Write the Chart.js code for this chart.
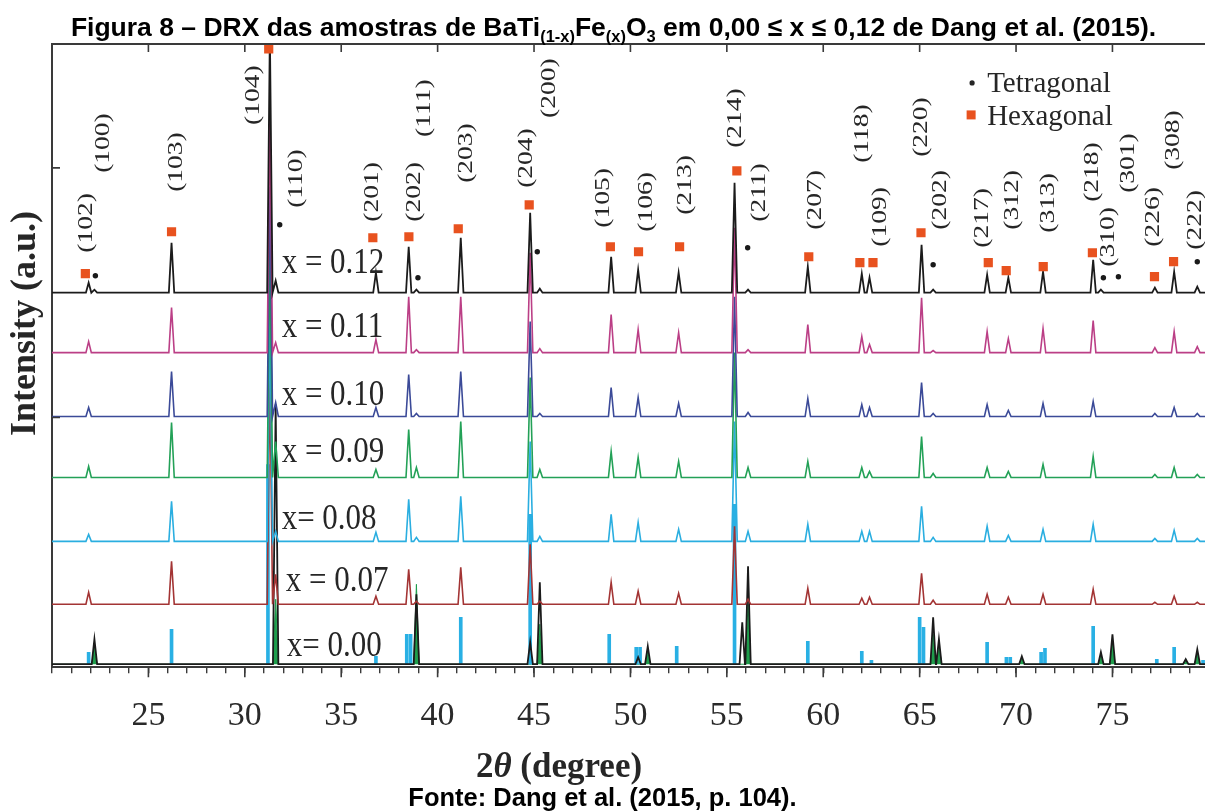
<!DOCTYPE html>
<html>
<head>
<meta charset="utf-8">
<script src="https://cdn.jsdelivr.net/npm/chart.js@4.4.0/dist/chart.umd.min.js"></script>
<style>
  body { margin: 0; background: #fff; }
  #wrap { position: relative; width: 1205px; height: 812px; overflow: hidden; }
  #chart { position: absolute; left: 0; top: 0; }
  .cap { position: absolute; left: 0; width: 1205px; text-align: center; white-space: nowrap;
         font-family: "Liberation Sans", Arial, sans-serif; font-weight: bold; color: #000; }
  #title { top: 12px; font-size: 26.5px; padding-left: 22px; box-sizing: border-box; }
  #source { top: 783px; font-size: 25.5px; }
  sub { font-size: 62%; vertical-align: -0.35em; line-height: 0; }
</style>
</head>
<body>
<div id="wrap">
  <canvas id="chart" width="1205" height="812"></canvas>
  <div class="cap" id="title">Figura 8 – DRX das amostras de BaTi<sub>(1-x)</sub>Fe<sub>(x)</sub>O<sub>3</sub> em 0,00 ≤ x ≤ 0,12 de Dang et al. (2015).</div>
  <div class="cap" id="source">Fonte: Dang et al. (2015, p. 104).</div>
</div>
<script>
// 2-theta positions of the reflections (degrees)
const twoTheta = [21.9, 22.2, 26.2, 31.3, 31.6, 36.8, 38.5, 38.9, 41.2, 44.8, 45.3, 49.0, 50.4, 50.9, 52.5,
                  55.4, 55.8, 56.1, 59.2, 62.0, 62.4, 65.1, 65.7, 66.0, 68.5, 69.6, 70.3, 71.4, 74.0, 74.4,
                  75.0, 77.2, 78.2, 78.8, 79.4];

// peak heights above each pattern's own baseline (a.u.)
const I_012 = [10, 3, 50, 260, 12, 20, 46, 3, 55, 80, 4, 36, 23, 0, 20, 110, 0, 3, 26, 19, 15, 48, 3, 0, 18, 15, 0, 21, 33, 3, 0, 5, 21, 0, 6];
const I_011 = [11, 0, 45, 240, 10, 13, 56, 3, 56, 100, 4, 38, 23, 0, 20, 125, 0, 3, 28, 16, 8, 55, 2, 0, 21, 14, 0, 24, 32, 0, 0, 5, 21, 0, 6];
const I_010 = [9, 0, 45, 230, 14, 9, 42, 3, 45, 95, 3, 29, 19, 0, 13, 120, 0, 4, 18, 12, 9, 34, 3, 0, 12, 6, 0, 13, 15, 0, 0, 3, 9, 0, 3];
const I_009 = [11, 0, 55, 230, 36, 8, 48, 10, 56, 100, 8, 26, 20, 0, 16, 125, 0, 10, 16, 10, 6, 41, 4, 0, 10, 6, 0, 13, 21, 0, 0, 3, 10, 0, 3];
const I_008 = [7, 0, 40, 230, 10, 9, 42, 4, 45, 100, 5, 27, 19, 0, 12, 120, 0, 10, 17, 10, 10, 35, 4, 0, 15, 6, 0, 12, 17, 0, 0, 3, 11, 0, 3];
const I_007 = [12, 0, 43, 230, 30, 8, 35, 3, 37, 60, 3, 22, 13, 0, 11, 78, 0, 5, 16, 6, 7, 31, 4, 0, 10, 7, 0, 10, 15, 0, 0, 2, 8, 0, 2];
const I_000 = [0, 25, 0, 0, 260, 0, 0, 70, 0, 22, 82, 0, 7, 18, 0, 0, 42, 98, 0, 0, 0, 0, 47, 25, 0, 0, 8, 0, 0, 12, 30, 0, 0, 5, 15];

// vertical offset of each pattern in the stack
const offsets = { x012: 375, x011: 315, x010: 251, x009: 190, x008: 126, x007: 63, x000: 3 };

// reference patterns under x = 0.00
const tetRef2Theta = [22.2, 31.6, 38.9, 45.3, 50.9, 56.1, 65.7, 66.0, 70.3, 74.4, 75.0, 78.8, 79.4];
const tetRefI      = [18, 65, 80, 40, 12, 60, 30, 20, 6, 8, 22, 5, 10];
const hexRef2Theta = [21.9, 26.2, 31.2, 36.8, 38.4, 38.6, 41.2, 44.8, 48.9, 50.3, 50.5, 52.4, 55.4, 59.2,
                      62.0, 62.5, 65.0, 65.2, 68.5, 69.5, 69.7, 71.3, 71.5, 74.0, 77.3, 78.2, 79.7];
const hexRefI      = [12, 35, 200, 8, 30, 30, 47, 150, 30, 17, 17, 18, 160, 23, 13, 4, 47, 37, 22, 7, 7, 12, 16, 38, 5, 17, 4];

// phase markers above the x = 0.12 pattern
const hexMark2Theta = [21.73, 26.2, 31.24, 36.64, 38.51, 41.07, 44.75, 48.96, 50.42, 52.55, 55.52, 59.25, 61.9,
                       62.58, 65.07, 68.56, 69.49, 71.41, 73.96, 77.18, 78.17];
const hexMarkI      = [394, 436, 619, 430, 431, 439, 463, 421, 416, 421, 497, 411, 405, 405, 435, 405, 397, 401, 415, 391, 406];
const tetMark2Theta = [22.25, 31.81, 38.98, 45.17, 56.08, 65.7, 74.53, 75.31, 79.4];
const tetMarkI      = [392, 443, 390, 416, 420, 403, 390, 391, 406];

// Miller indices: text, 2theta, intensity at the foot of the label
const millerText   = ['(100)', '(102)', '(103)', '(104)', '(110)', '(201)', '(202)', '(111)', '(203)', '(204)', '(200)',
                      '(105)', '(106)', '(213)', '(214)', '(211)', '(207)', '(118)', '(109)', '(220)', '(202)', '(217)',
                      '(312)', '(313)', '(218)', '(310)', '(301)', '(226)', '(308)', '(222)'];
const miller2Theta = [22.66, 21.78, 26.46, 30.46, 32.69, 36.59, 38.77, 39.29, 41.48, 44.59, 45.79, 48.6, 50.83, 52.86,
                      55.41, 56.7, 59.56, 62.01, 62.94, 65.07, 66.06, 68.24, 69.8, 71.67, 73.96, 74.79, 75.83, 77.13, 78.17, 79.31];
const millerI      = [495, 415, 476, 543, 460, 446, 446, 531, 485, 480, 550, 440, 436, 453, 520, 446, 438, 505, 421, 511,
                      438, 420, 438, 435, 466, 401, 475, 421, 498, 418];

const sampleLabels = ['x = 0.12', 'x = 0.11', 'x = 0.10', 'x = 0.09', 'x= 0.08', 'x = 0.07', 'x= 0.00'];
const sampleLabelAt = [[31.91, 395], [31.91, 331], [31.91, 263], [31.91, 205], [31.91, 138], [32.12, 76], [32.17, 11]];

const HW = 0.14; // half width of a peak foot, degrees

function trace(base, heights, positions) {
    const pts = [{ x: 20, y: base }];
    positions.forEach((p, i) => {
        if (!heights[i]) return;
        pts.push({ x: p - HW, y: base }, { x: p, y: base + heights[i] }, { x: p + HW, y: base });
    });
    pts.push({ x: 80, y: base });
    return pts.sort((a, b) => a.x - b.x);
}

function pattern(data, color, width) {
    return { type: 'line', data, borderColor: color, borderWidth: width || 1.6, pointRadius: 0, fill: false, tension: 0 };
}

const serif = '"Liberation Serif", "Times New Roman", serif';

const frameText = {
    id: 'frameText',
    afterDatasetsDraw(chart) {
        const { ctx, chartArea: a, scales: { x, y } } = chart;
        ctx.save();
        // top frame line and inward ticks
        ctx.strokeStyle = '#3a3a3a';
        ctx.lineWidth = 2;
        ctx.beginPath();
        ctx.moveTo(a.left, a.top);
        ctx.lineTo(a.right, a.top);
        ctx.stroke();
        ctx.lineWidth = 1.6;
        ctx.beginPath();
        for (let v = 25; v <= 75; v += 5) {
            const px = x.getPixelForValue(v);
            ctx.moveTo(px, a.top);
            ctx.lineTo(px, a.top + 8);
            // major ticks on the bottom axis hang a little lower
            ctx.moveTo(px, a.bottom);
            ctx.lineTo(px, a.bottom + 10);
        }
        [250, 500].forEach(v => {
            const py = y.getPixelForValue(v);
            ctx.moveTo(a.left, py);
            ctx.lineTo(a.left + 8, py);
        });
        ctx.stroke();

        ctx.fillStyle = '#262626';
        // Miller indices, rotated
        ctx.font = '22px ' + serif;
        ctx.textAlign = 'left';
        ctx.textBaseline = 'middle';
        millerText.forEach((t, i) => {
            ctx.save();
            ctx.translate(x.getPixelForValue(miller2Theta[i]), y.getPixelForValue(millerI[i]));
            ctx.rotate(-Math.PI / 2);
            ctx.scale(1.25, 1);
            ctx.fillText(t, 0, 0);
            ctx.restore();
        });

        // sample labels
        ctx.font = '31px ' + serif;
        ctx.textBaseline = 'alphabetic';
        sampleLabels.forEach((t, i) => {
            ctx.save();
            ctx.translate(x.getPixelForValue(sampleLabelAt[i][0]), y.getPixelForValue(sampleLabelAt[i][1]));
            ctx.scale(1, 1.15);
            ctx.fillText(t, 0, 0);
            ctx.restore();
        });

        // legend
        ctx.font = '29px ' + serif;
        const lx = x.getPixelForValue(68.5);
        ctx.fillText('Tetragonal', lx, y.getPixelForValue(576));
        ctx.fillText('Hexagonal', lx, y.getPixelForValue(543));
        ctx.beginPath();
        ctx.arc(x.getPixelForValue(67.72), y.getPixelForValue(585), 2.6, 0, Math.PI * 2);
        ctx.fill();
        ctx.fillStyle = '#e8521f';
        ctx.fillRect(x.getPixelForValue(67.67) - 4.5, y.getPixelForValue(553) - 4.5, 9, 9);

        // axis titles
        ctx.fillStyle = '#262626';
        ctx.save();
        ctx.translate(a.left - 26, (a.top + a.bottom) / 2 - 32);
        ctx.rotate(-Math.PI / 2);
        ctx.font = 'bold 36px ' + serif;
        ctx.textAlign = 'center';
        ctx.textBaseline = 'middle';
        ctx.fillText('Intensity (a.u.)', 0, 0);
        ctx.restore();

        const parts = [['2', 'bold 35px ' + serif], ['\u03b8', 'italic bold 35px ' + serif], [' (degree)', 'bold 35px ' + serif]];
        let total = 0;
        parts.forEach(p => { ctx.font = p[1]; total += ctx.measureText(p[0]).width; });
        let cx = a.left + 507 - total / 2;
        const by = a.bottom + 110;
        ctx.textAlign = 'left';
        ctx.textBaseline = 'alphabetic';
        parts.forEach(p => {
            ctx.font = p[1];
            ctx.fillText(p[0], cx, by);
            cx += ctx.measureText(p[0]).width;
        });
        ctx.restore();
    }
};

new Chart(document.getElementById('chart'), {
    type: 'line',
    data: {
        datasets: [
            { type: 'scatter', data: hexMark2Theta.map((v, i) => ({ x: v, y: hexMarkI[i] })),
              pointStyle: 'rect', pointRadius: 6.5, pointBackgroundColor: '#e8521f', pointBorderWidth: 0 },
            { type: 'scatter', data: tetMark2Theta.map((v, i) => ({ x: v, y: tetMarkI[i] })),
              pointStyle: 'circle', pointRadius: 2.7, pointBackgroundColor: '#1a1a1a', pointBorderWidth: 0 },
            pattern(trace(offsets.x012, I_012, twoTheta), '#1b1b1b', 1.8),
            pattern(trace(offsets.x011, I_011, twoTheta), '#bb3f86'),
            pattern(trace(offsets.x010, I_010, twoTheta), '#3b4a98'),
            pattern(trace(offsets.x009, I_009, twoTheta), '#23a157'),
            pattern(trace(offsets.x008, I_008, twoTheta), '#2aaee0'),
            pattern(trace(offsets.x007, I_007, twoTheta), '#a33434'),
            pattern(trace(offsets.x000, I_000, twoTheta), '#1b1b1b', 1.8),
            { type: 'bar', data: hexRef2Theta.map((v, i) => ({ x: v, y: [offsets.x000, offsets.x000 + hexRefI[i]] })),
              backgroundColor: '#29b0e4', barThickness: 3, grouped: false },
            { type: 'line', data: trace(offsets.x000, tetRefI, tetRef2Theta), borderColor: '#1f9e4c',
              backgroundColor: '#1f9e4c', borderWidth: 1, pointRadius: 0, fill: { value: offsets.x000 } }
        ]
    },
    options: {
        responsive: false,
        animation: false,
        events: [],
        layout: { autoPadding: false, padding: { left: 44, top: 44, right: 0, bottom: 54 } },
        plugins: { legend: { display: false }, tooltip: { enabled: false } },
        scales: {
            x: {
                type: 'linear', min: 20, max: 79.8, offset: false,
                afterFit: s => { s.paddingLeft = 0; s.paddingRight = 0; },
                grid: { offset: false, drawOnChartArea: false, drawTicks: true, tickLength: 6, color: '#3a3a3a', lineWidth: 1.4 },
                border: { display: true, color: '#3a3a3a', width: 2 },
                ticks: {
                    stepSize: 1, autoSkip: false, maxRotation: 0, includeBounds: false, padding: 22,
                    color: '#2a2a2a', font: { family: serif, size: 34 },
                    callback: v => (v % 5 === 0 && v >= 25) ? String(v) : ''
                }
            },
            y: {
                type: 'linear', min: 0, max: 624,
                grid: { display: false },
                border: { display: true, color: '#3a3a3a', width: 2 },
                ticks: { display: false }
            }
        }
    },
    plugins: [frameText]
});
</script>
</body>
</html>
